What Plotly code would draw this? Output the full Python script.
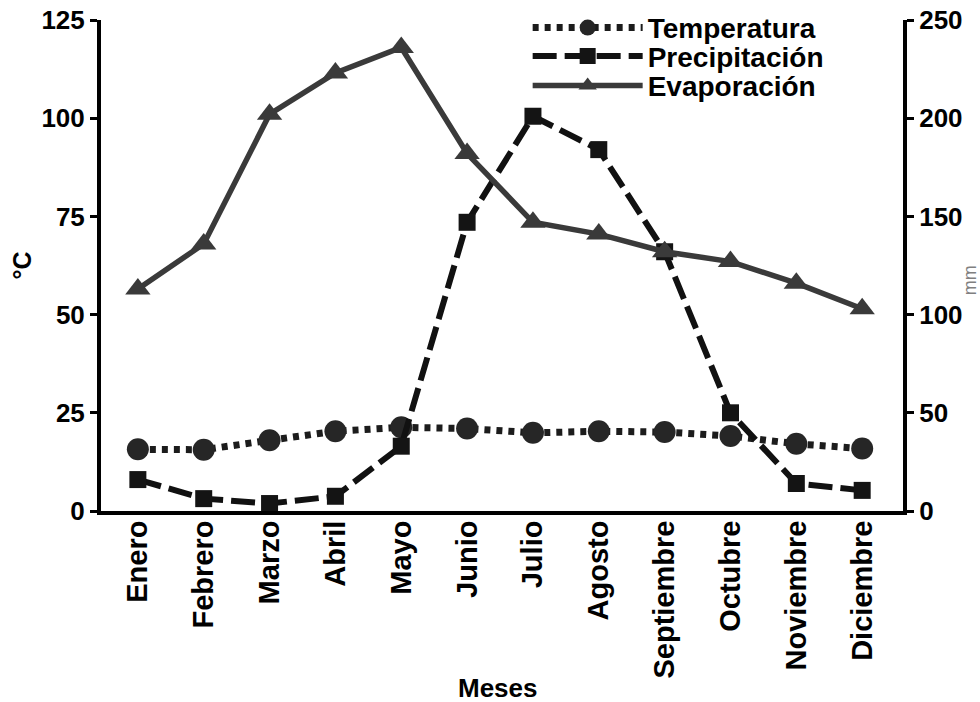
import plotly.graph_objects as go

meses = ["Enero", "Febrero", "Marzo", "Abril", "Mayo", "Junio", "Julio",
         "Agosto", "Septiembre", "Octubre", "Noviembre", "Diciembre"]
temperatura = [15.7, 15.6, 18.0, 20.3, 21.3, 21.0, 19.9, 20.3, 20.1, 19.1, 17.1, 15.9]
precipitacion = [16, 6.3, 3.8, 7.5, 33, 147, 201, 184, 132, 50, 14, 10.5]
evaporacion = [113, 136, 202, 223, 236, 182, 147, 141, 132, 127, 116, 103]
ticks_c = [0, 25, 50, 75, 100, 125]
ticks_mm = [0, 50, 100, 150, 200, 250]

FONT = "Liberation Sans, Arial, sans-serif"
x = list(range(len(meses)))

fig = go.Figure()
fig.add_trace(go.Scatter(
    x=x, y=temperatura, name="Temperatura", mode="lines+markers",
    line=dict(color="#1c1c1c", width=7, dash="6px,6px"),
    marker=dict(symbol="circle", size=22, color="#262626"),
    cliponaxis=False, yaxis="y", legend="legend"))
fig.add_trace(go.Scatter(
    x=x, y=precipitacion, name="Precipitación", mode="lines+markers",
    line=dict(color="#111111", width=6, dash="24px,8px"),
    marker=dict(symbol="square", size=17, color="#141414"),
    cliponaxis=False, yaxis="y2", legend="legend2"))
fig.add_trace(go.Scatter(
    x=x, y=evaporacion, name="Evaporación", mode="lines+markers",
    line=dict(color="#3a3a3a", width=5.5),
    marker=dict(symbol="triangle-up", size=22, color="#3a3a3a"),
    cliponaxis=False, yaxis="y2", legend="legend3"))

leg_common = dict(x=0.532, xanchor="left", yanchor="middle",
                  itemwidth=110, bgcolor="rgba(0,0,0,0)",
                  font=dict(size=28, family=FONT, color="black", weight="bold"))

fig.update_layout(
    width=980, height=702,
    margin=dict(l=101, r=77, t=20, b=191, autoexpand=False),
    paper_bgcolor="white", plot_bgcolor="white",
    font=dict(family=FONT, color="black"),
    showlegend=True,
    legend=dict(y=0.984, **leg_common),
    legend2=dict(y=0.926, **leg_common),
    legend3=dict(y=0.866, **leg_common),
    xaxis=dict(
        range=[-0.56, 11.62], tickmode="array", tickvals=x, ticktext=meses,
        tickangle=-90, tickfont=dict(size=29, family=FONT, weight="bold"),
        showline=True, linewidth=4, linecolor="black", mirror=False,
        ticks="", showgrid=False, zeroline=False, automargin=False,
        ticklabelstandoff=-6, ticklabeloverflow="allow"),
    yaxis=dict(
        range=[0, 125], tickmode="array", tickvals=ticks_c,
        tickfont=dict(size=26, family=FONT, weight="bold"),
        showline=True, linewidth=4, linecolor="black",
        ticks="outside", ticklen=7, tickwidth=3, tickcolor="black",
        showgrid=False, zeroline=False, automargin=False,
        ticklabeloverflow="allow",
        title=dict(text="°C", font=dict(size=25, family=FONT, weight="bold"),
                   standoff=4)),
    yaxis2=dict(
        range=[0, 250], tickmode="array", tickvals=ticks_mm,
        overlaying="y", side="right",
        tickfont=dict(size=26, family=FONT, weight="bold"),
        showline=True, linewidth=4, linecolor="black",
        ticks="outside", ticklen=7, tickwidth=3, tickcolor="black",
        showgrid=False, zeroline=False, automargin=False,
        ticklabeloverflow="allow"),
    annotations=[
        dict(text="Meses", xref="paper", yref="paper", x=0.495, y=-0.36,
             showarrow=False, yanchor="middle",
             font=dict(size=26, family=FONT, weight="bold")),
        dict(text="mm", xref="paper", yref="paper", x=1.0835, y=0.47,
             showarrow=False, xanchor="center", yanchor="middle", textangle=-90,
             font=dict(size=18, family=FONT, color="#808080")),
    ],
)

fig.write_html("out.html", config={"displayModeBar": False},
               post_script="document.body.style.margin='0px';")
